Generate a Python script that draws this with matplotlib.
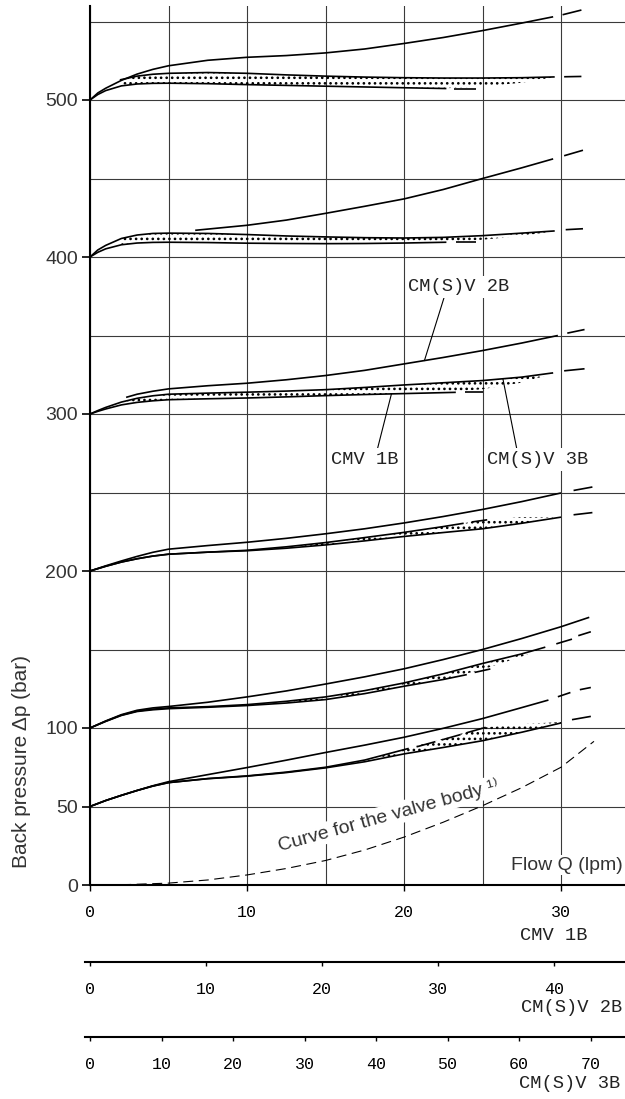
import numpy as np
import matplotlib
matplotlib.use("Agg")
import matplotlib.pyplot as plt

nan = np.nan

# flow on the CMV 1B scale (lpm), back pressure (bar)
# ---- 50 bar setting ----
q50_2b = [0, 1, 2, 3, 4, 5, 7.5, 10, 12.5, 15, 17.5, 20, 22.5, 25, 27.5, 29.2]
p50_2b = [50, 53.8, 57.1, 60.2, 63.2, 65.8, 70.3, 74.8, 79.5, 84.4, 89.1, 94.1, 99.8, 106.0, 113.0, 117.8]
q50_2b_tail = [29.8, 30.6, nan, 31.2, 31.9]
p50_2b_tail = [119.9, 122.6, nan, 124.4, 125.8]
q50_3b = [0, 1, 2, 3, 4, 5, 7.5, 10, 12.5, 15, 17.5, 20, 22.5, 25, 27.5, 30]
p50_3b = [50, 53.8, 57.1, 60.2, 63.0, 65.2, 67.7, 69.3, 71.6, 74.6, 78.5, 83.5, 87.6, 91.9, 97.3, 103.2]
q50_3b_tail = [30.7, 31.9]
p50_3b_tail = [105.3, 107.4]
q50_1b = [0, 1, 2, 3, 4, 5, 7.5, 10, 12.5, 15, 17.5, 20.3]
p50_1b = [50, 53.8, 57.1, 60.2, 63.0, 65.2, 67.8, 69.5, 71.9, 75.0, 79.6, 87.0]
q50_1b_tail = [20.8, 22.0, nan, 22.4, 23.6, nan, 24.0, 25.2]
p50_1b_tail = [88.0, 91.3, nan, 92.4, 95.8, nan, 97.0, 100.4]
q50_band = [17.5, 20, 22.5, 25, 27.5, 30]
p50_band_lo = [78.5, 83.5, 87.6, 91.9, 97.3, 103.2]
p50_band_hi = [79.2, 86.5, 93.2, 100.3, 102.5, 103.8]

# ---- 100 bar setting ----
q100_2b = [0, 1, 2, 3, 4, 5, 7.5, 10, 12.5, 15, 17.5, 20, 22.5, 25, 27.5, 30, 31.8]
p100_2b = [100, 104.5, 108.5, 111.3, 112.8, 113.7, 116.4, 119.8, 123.6, 128.0, 132.6, 137.7, 143.6, 150.0, 157.0, 164.5, 170.5]
q100_3b = [0, 1, 2, 3, 4, 5, 7.5, 10, 12.5, 15, 17.5, 20, 22.5, 25, 27.5, 29.0]
p100_3b = [100, 104.3, 108.2, 110.8, 112.0, 112.8, 113.6, 114.9, 117.0, 119.8, 123.8, 128.7, 134.5, 141.1, 147.2, 151.5]
q100_3b_tail = [29.7, 30.7, nan, 31.1, 31.9]
p100_3b_tail = [153.6, 156.6, nan, 158.8, 161.3]
q100_1b = [0, 1, 2, 3, 4, 5, 7.5, 10, 12.5, 15, 17.5, 20, 22.5, 24.0]
p100_1b = [100, 104.2, 108.0, 110.5, 111.6, 112.3, 113.2, 114.3, 115.9, 118.1, 121.9, 126.6, 130.9, 134.0]
q100_1b_tail = [24.5, 25.5]
p100_1b_tail = [135.4, 137.6]
q100_band = [10, 12.5, 15, 17.5, 20, 22.5, 25, 27.5, 28.5]
p100_band_lo = [114.4, 115.9, 118.1, 121.9, 126.6, 130.9, 137.3, 145.5, 149.5]
p100_band_hi = [114.9, 117.0, 119.8, 123.8, 128.7, 134.5, 141.1, 147.2, 150.0]

# ---- 200 bar setting ----
q200_2b = [0, 1, 2, 3, 4, 5, 7.5, 10, 12.5, 15, 17.5, 20, 22.5, 25, 27.5, 30]
p200_2b = [200, 203.3, 206.4, 209.3, 211.9, 213.9, 216.2, 218.3, 220.8, 223.7, 226.9, 230.6, 234.7, 239.2, 244.2, 249.7]
q200_2b_tail = [30.8, 32.0]
p200_2b_tail = [251.3, 253.5]
q200_3b = [0, 1, 2, 3, 4, 5, 7.5, 10, 12.5, 15, 17.5, 20, 22.5, 25, 27.5, 30]
p200_3b = [200, 203.0, 205.7, 207.8, 209.5, 210.7, 212.0, 212.9, 214.5, 216.6, 219.2, 222.0, 224.5, 226.9, 230.4, 234.3]
q200_3b_tail = [30.8, 32.0]
p200_3b_tail = [235.8, 237.2]
q200_1b = [0, 1, 2, 3, 4, 5, 7.5, 10, 12.5, 15, 17.5, 20, 22.5, 23.8]
p200_1b = [200, 203.0, 205.7, 207.8, 209.5, 210.7, 212.0, 213.2, 215.4, 218.1, 221.3, 224.6, 228.3, 230.4]
q200_1b_tail = [24.3, 25.3]
p200_1b_tail = [231.2, 232.6]
q200_band = [10, 12.5, 15, 17.5, 20, 22.5, 25, 27.5, 29.5]
p200_band_lo = [212.9, 214.5, 216.6, 219.2, 222.0, 224.5, 226.9, 230.4, 233.5]
p200_band_hi = [213.2, 215.4, 218.1, 221.3, 224.6, 228.3, 232.4, 234.3, 234.0]

# ---- 300 bar setting ----
q300_2b = [2.3, 3, 4, 5, 7.5, 10, 12.5, 15, 17.5, 20, 22.5, 25, 27.5, 29.8]
p300_2b = [310.6, 312.6, 314.5, 316.0, 318.0, 319.6, 321.8, 324.5, 327.8, 331.9, 336.0, 340.4, 345.2, 350.0]
q300_2b_tail = [30.4, 31.5]
p300_2b_tail = [351.5, 353.8]
q300_3b = [0, 0.5, 1, 2, 3, 4, 5, 7.5, 10, 12.5, 15, 17.5, 20, 22.5, 25, 27.5, 29.5]
p300_3b = [300, 302.2, 304.2, 307.6, 310.0, 311.6, 312.6, 313.3, 313.9, 314.6, 315.5, 316.9, 318.5, 319.9, 321.3, 323.5, 326.2]
q300_3b_tail = [30.2, 31.5]
p300_3b_tail = [327.5, 328.8]
q300_1b = [0, 0.5, 1, 2, 3, 4, 5, 7.5, 10, 12.5, 15, 17.5, 20, 23.3]
p300_1b = [300, 301.7, 303.2, 305.8, 307.4, 308.4, 309.1, 309.7, 310.2, 310.9, 311.7, 312.4, 313.0, 313.8]
q300_1b_tail = [23.9, 25.0]
p300_1b_tail = [314.0, 314.0]
q300_band = [2, 3, 4, 5, 7.5, 10, 12.5, 15, 17.5, 20, 22.5, 25, 27.5, 29.5]
p300_band_lo = [306.3, 307.4, 308.4, 309.1, 309.7, 310.2, 310.9, 311.7, 312.4, 313.0, 313.6, 315.8, 320.0, 325.8]
p300_band_hi = [307.6, 310.0, 311.6, 312.6, 313.3, 313.9, 314.6, 315.5, 316.9, 318.5, 319.9, 321.3, 323.5, 326.0]

# ---- 400 bar setting ----
q400_2b = [6.7, 10, 12.5, 15, 17.5, 20, 22.5, 25, 27.5, 29.5]
p400_2b = [417.0, 420.2, 423.5, 427.8, 432.3, 437.0, 443.0, 450.0, 456.8, 462.5]
q400_2b_tail = [30.2, 31.4]
p400_2b_tail = [464.5, 468.0]
q400_3b = [0, 0.5, 1, 2, 3, 4, 5, 7.5, 10, 12.5, 15, 17.5, 20, 22.5, 25, 27.5, 29.6]
p400_3b = [400, 404.5, 407.4, 411.8, 414.0, 415.0, 415.2, 415.0, 414.3, 413.4, 412.8, 412.3, 412.1, 412.5, 413.6, 415.2, 416.6]
q400_3b_tail = [30.3, 31.4]
p400_3b_tail = [417.4, 418.0]
q400_1b = [0, 0.5, 1, 2, 3, 4, 5, 7.5, 10, 12.5, 15, 17.5, 20, 22.7]
p400_1b = [400, 403.0, 405.2, 407.8, 408.9, 409.3, 409.4, 409.2, 408.8, 408.6, 408.5, 408.6, 408.9, 409.4]
q400_1b_tail = [23.3, 24.6]
p400_1b_tail = [409.6, 409.6]
q400_band = [2, 3, 4, 5, 7.5, 10, 12.5, 15, 17.5, 20, 22.5, 25, 27.5, 29.5]
p400_band_lo = [408.3, 408.9, 409.3, 409.4, 409.2, 408.8, 408.6, 408.5, 408.6, 408.9, 409.4, 411.0, 413.5, 416.3]
p400_band_hi = [411.8, 414.0, 415.0, 415.2, 415.0, 414.3, 413.4, 412.8, 412.3, 412.1, 412.5, 413.6, 415.2, 416.5]

# ---- 500 bar setting ----
q500_2b = [0, 0.5, 1, 2, 3, 4, 5, 7.5, 10, 12.5, 15, 17.5, 20, 22.5, 25, 27.5, 29.5]
p500_2b = [500, 504.5, 507.5, 512.5, 516.5, 519.5, 521.8, 525.3, 527.2, 528.3, 530.0, 532.5, 536.0, 539.8, 544.2, 549.0, 553.0]
q500_2b_tail = [30.1, 31.3]
p500_2b_tail = [554.3, 557.3]
q500_3b = [1.9, 3, 4, 5, 7.5, 10, 12.5, 15, 17.5, 20, 22.5, 25, 27.5, 29.6]
p500_3b = [512.8, 515.2, 516.4, 517.0, 517.5, 517.0, 516.0, 515.2, 514.6, 514.2, 514.0, 514.0, 514.2, 514.7]
q500_3b_tail = [30.2, 31.3]
p500_3b_tail = [514.8, 515.0]
q500_1b = [0, 0.5, 1, 2, 3, 4, 5, 7.5, 10, 12.5, 15, 17.5, 20, 22.7]
p500_1b = [500, 503.5, 506.0, 509.0, 510.2, 510.6, 510.7, 510.4, 509.8, 509.3, 508.8, 508.3, 507.8, 507.3]
q500_1b_tail = [23.2, 24.6]
p500_1b_tail = [507.2, 507.2]
q500_band = [2, 3, 4, 5, 7.5, 10, 12.5, 15, 17.5, 20, 22.5, 25, 27.5, 29.5]
p500_band_lo = [509.6, 510.2, 510.6, 510.7, 510.4, 509.8, 509.3, 508.8, 508.3, 507.8, 507.4, 508.6, 511.0, 514.4]
p500_band_hi = [513.0, 515.2, 516.4, 517.0, 517.5, 517.0, 516.0, 515.2, 514.6, 514.2, 514.0, 514.0, 514.2, 514.6]

# valve body alone (dashed)
q_body = [0, 2.5, 5, 7.5, 10, 12.5, 15, 17.5, 20, 22.5, 25, 27.5, 30, 32.1]
p_body = [0, 0.3, 1.2, 3.2, 6.4, 10.5, 15.6, 22.3, 30.5, 40.0, 50.5, 62.0, 75.0, 91.5]

# axis ticks
q1b_ticks = [0, 10, 20, 30]
q2b_ticks = [0, 10, 20, 30, 40]
q3b_ticks = [0, 10, 20, 30, 40, 50, 60, 70]
p_ticks = [0, 50, 100, 200, 300, 400, 500]
p_grid = [150, 250, 350, 450, 550]
q_grid = [5, 15, 25]

# px per unit on the three flow scales
PX_1B = 15.7
PX_2B = 11.6
PX_3B = 7.15

W, H = 625, 1099
SANS = ["Liberation Sans", "DejaVu Sans"]
MONO = "Liberation Mono"
TXT = "#333333"

plt.rcParams["hatch.linewidth"] = 1.1

fig = plt.figure(figsize=(W / 100, H / 100), dpi=100)
ax = fig.add_axes([90 / W, (H - 885) / H, 535 / W, 879 / H])
ax.set_xlim(0, 535 / PX_1B)
ax.set_ylim(0, 879 / 1.57)

for s in ["top", "right"]:
    ax.spines[s].set_visible(False)
for s in ["left", "bottom"]:
    ax.spines[s].set_linewidth(1.5)

ax.set_xticks(q1b_ticks)
ax.set_xticks(q_grid, minor=True)
ax.set_yticks(p_ticks)
ax.set_yticks(p_grid, minor=True)
ax.grid(True, which="both", color="#3a3a3a", lw=0.8)
ax.tick_params(axis="y", which="major", length=5.8, width=1.2, pad=3,
               labelsize=14, labelcolor=TXT)
ax.tick_params(axis="x", which="major", length=4.3, width=1.0, pad=10,
               labelsize=12)
ax.tick_params(which="minor", length=0)
for lbl in ax.get_yticklabels():
    lbl.set_fontfamily(SANS)
for lbl in ax.get_xticklabels():
    lbl.set_fontfamily(MONO)

lw = 1.2
families = [
    (q50_2b, p50_2b, q50_2b_tail, p50_2b_tail),
    (q50_3b, p50_3b, q50_3b_tail, p50_3b_tail),
    (q50_1b, p50_1b, q50_1b_tail, p50_1b_tail),
    (q100_2b, p100_2b, [], []),
    (q100_3b, p100_3b, q100_3b_tail, p100_3b_tail),
    (q100_1b, p100_1b, q100_1b_tail, p100_1b_tail),
    (q200_2b, p200_2b, q200_2b_tail, p200_2b_tail),
    (q200_3b, p200_3b, q200_3b_tail, p200_3b_tail),
    (q200_1b, p200_1b, q200_1b_tail, p200_1b_tail),
    (q300_2b, p300_2b, q300_2b_tail, p300_2b_tail),
    (q300_3b, p300_3b, q300_3b_tail, p300_3b_tail),
    (q300_1b, p300_1b, q300_1b_tail, p300_1b_tail),
    (q400_2b, p400_2b, q400_2b_tail, p400_2b_tail),
    (q400_3b, p400_3b, q400_3b_tail, p400_3b_tail),
    (q400_1b, p400_1b, q400_1b_tail, p400_1b_tail),
    (q500_2b, p500_2b, q500_2b_tail, p500_2b_tail),
    (q500_3b, p500_3b, q500_3b_tail, p500_3b_tail),
    (q500_1b, p500_1b, q500_1b_tail, p500_1b_tail),
]
for q, p, qt, pt in families:
    ax.plot(q, p, color="black", lw=lw, zorder=3, solid_capstyle="butt")
    if len(qt):
        ax.plot(qt, pt, color="black", lw=lw, zorder=3, solid_capstyle="butt")

bands = [
    (q50_band, p50_band_lo, p50_band_hi),
    (q100_band, p100_band_lo, p100_band_hi),
    (q200_band, p200_band_lo, p200_band_hi),
    (q300_band, p300_band_lo, p300_band_hi),
    (q400_band, p400_band_lo, p400_band_hi),
    (q500_band, p500_band_lo, p500_band_hi),
]
for q, lo, hi in bands:
    ax.fill_between(q, lo, hi, facecolor="none", edgecolor="black",
                    hatch="...", linewidth=0, zorder=2)

ax.plot(q_body, p_body, color="black", lw=0.8, ls=(0, (9, 5)), zorder=3)

box = dict(boxstyle="square,pad=0.15", fc="white", ec="none")
leader = dict(arrowstyle="-", lw=0.8, color="black", shrinkA=0, shrinkB=0)
ax.annotate("CM(S)V 2B", xy=(21.3, 334.0), xytext=(23.5, 381),
            ha="center", va="center", family=MONO, size=13.5, color="#222",
            bbox=box, arrowprops=dict(leader, relpos=(0.36, 0)), zorder=5)
ax.annotate("CMV 1B", xy=(19.2, 312.8), xytext=(17.5, 271),
            ha="center", va="center", family=MONO, size=13.5, color="#222",
            bbox=box, arrowprops=dict(leader, relpos=(0.68, 1)), zorder=5)
ax.annotate("CM(S)V 3B", xy=(26.3, 322.4), xytext=(28.5, 271),
            ha="center", va="center", family=MONO, size=13.5, color="#222",
            bbox=box, arrowprops=dict(leader, relpos=(0.3, 1)), zorder=5)

ax.text(19.0, 44.2, "Curve for the valve body \u00b9\u207e", rotation=15.5,
        rotation_mode="anchor", ha="center", va="center", family=SANS,
        size=14, color=TXT, zorder=5,
        bbox=dict(boxstyle="square,pad=0.1", fc="white", ec="none"))

fig.text(623 / W, 1 - 865 / H, "Flow Q (lpm)", ha="right", va="center",
         family=SANS, size=14, color=TXT,
         bbox=dict(boxstyle="square,pad=0.1", fc="white", ec="none"))
fig.text(22 / W, 1 - 762 / H, "Back pressure \u0394p (bar)", rotation=90,
         ha="center", va="center", family=SANS, size=15, color=TXT)


def flow_scale(y_px, px_per_unit, ticks):
    a = fig.add_axes([85 / W, (H - y_px) / H, 540 / W, 0.0005])
    a.set_xlim(-5 / px_per_unit, 535 / px_per_unit)
    a.set_yticks([])
    a.patch.set_visible(False)
    for s in ["top", "right", "left"]:
        a.spines[s].set_visible(False)
    a.spines["bottom"].set_linewidth(1.5)
    a.set_xticks(ticks)
    a.tick_params(axis="x", length=3, width=1.0, pad=11.5, labelsize=12)
    for lbl in a.get_xticklabels():
        lbl.set_fontfamily(MONO)
    return a


flow_scale(962, PX_2B, q2b_ticks)
flow_scale(1037, PX_3B, q3b_ticks)

fig.text(588 / W, 1 - 935 / H, "CMV 1B", ha="right", va="center",
         family=MONO, size=13.5, color="#222")
fig.text(622 / W, 1 - 1008 / H, "CM(S)V 2B", ha="right", va="center",
         family=MONO, size=13.5, color="#222")
fig.text(620 / W, 1 - 1084 / H, "CM(S)V 3B", ha="right", va="center",
         family=MONO, size=13.5, color="#222")

fig.savefig("out.png", dpi=100)
